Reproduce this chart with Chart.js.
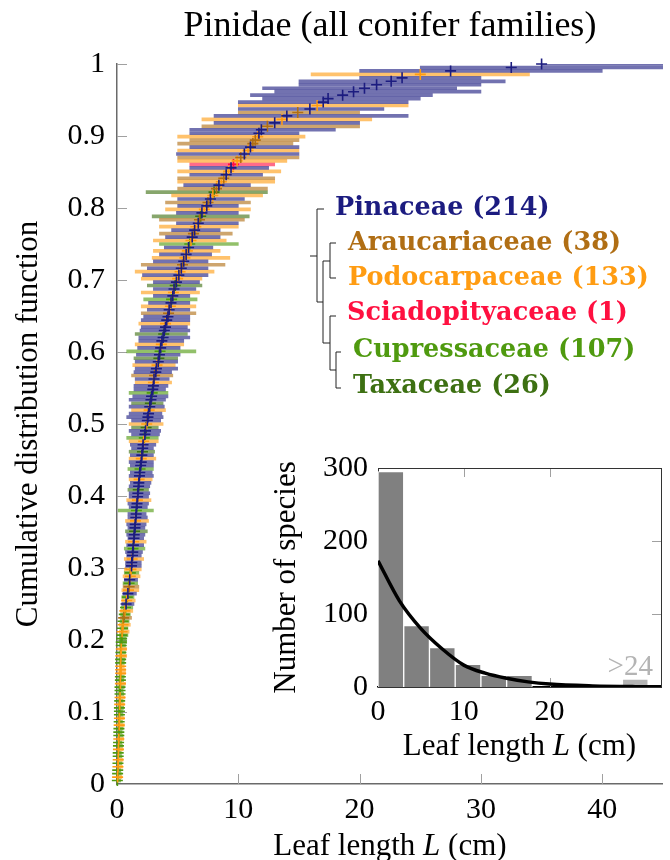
<!DOCTYPE html>
<html>
<head>
<meta charset="utf-8">
<script src="https://cdn.jsdelivr.net/npm/chart.js@4.4.1/dist/chart.umd.min.js"></script>
<style>
  body { margin: 0; background: #fff; }
  #wrap { position: relative; width: 670px; height: 860px; }
  #main { position: absolute; left: 0; top: 0; }
  #inset { position: absolute; left: 240px; top: 440px; }
</style>
</head>
<body>
<div id="wrap">
  <canvas id="main" width="670" height="860"></canvas>
  <canvas id="inset" width="430" height="330"></canvas>
</div>
<script>
// leaf length per species, [mean, min, max] in cm (a subsample)
const pinaceae = [
  [0.75,0.4,1.4],[0.9,0.5,1.6],[1.05,0.6,1.7],[1.2,0.7,2.0],
  [1.22,0.7,2.0],[1.28,0.8,2.0],[1.3,0.7,2.1],[1.35,0.8,2.2],[1.4,0.9,2.2],[1.42,0.8,2.3],[1.48,0.9,2.3],
  [1.5,0.8,2.4],[1.55,0.9,2.5],[1.58,0.9,2.4],[1.62,1.0,2.5],[1.65,0.9,2.6],[1.7,1.0,2.6],[1.72,1.0,2.7],
  [1.78,1.0,2.7],[1.8,1.1,2.8],[1.85,1.0,3.0],[1.88,1.1,2.9],[1.95,1.1,3.0],[2.0,1.0,3.0],[2.05,1.1,3.0],
  [2.12,1.2,3.0],[2.15,1.1,3.2],[2.3,1.2,3.5],[2.35,1.0,3.6],[2.5,1.2,3.6],
  [2.55,0.8,3.8],[2.6,1.0,3.7],[2.7,1.0,3.9],[2.8,1.0,4.0],[2.85,1.3,4.2],[2.95,1.4,4.0],[3.0,1.4,4.2],
  [3.05,1.5,4.3],[3.2,1.4,4.5],[3.25,1.5,5.0],[3.4,1.5,5.0],[3.5,1.6,5.2],[3.6,1.7,5.2],[3.7,1.8,5.5],
  [3.8,1.8,6.0],[3.9,1.9,6.0],[4.0,2.0,5.8],[4.1,2.0,6.0],[4.2,2.2,6.0],[4.3,2.5,6.0],[4.45,2.6,6.0],
  [4.6,3.0,6.0],[4.7,3.0,6.5],[4.9,3.0,6.8],
  [5.1,2.1,7.5],[5.3,2.5,7.5],[5.5,3.0,7.5],[5.7,3.5,7.8],[5.9,3.9,7.9],[6.2,4.0,8.5],[6.4,4.5,8.5],
  [6.7,4.9,10.0],[7.0,4.9,10.0],[7.4,5.0,10.0],[7.7,5.0,10.5],[8.4,5.5,11.0],[9.0,6.0,12.0],[9.4,6.0,12.5],
  [10.5,4.9,15.0],[11.0,6.0,15.0],[11.7,6.0,15.0],
  [11.9,6,18],[13.0,8,20],[14.0,8,24],[15.9,10,22],[17.0,10,24],[17.4,12,25],[18.6,11,26],[19.5,13,30],
  [20.4,12,28],[21.4,15,30],[22.6,15,32],[23.5,20,30],[27.5,20,40],[32.5,25,46],[35.0,35,46]
];
const araucariaceae = [
  [0.55,0.3,1.2],[1.0,0.5,1.8],[3.1,1.2,4.6],[4.25,2.0,6.5],[5.4,2.0,8.9],[6.3,3.5,9.5],[6.8,3.5,10.5],
  [7.5,4.0,11.0],[8.2,5.0,12.4],[8.8,5.0,13.0],[10.2,5.0,15.0],[11.2,5.0,14.5],[11.4,6.0,15.0],
  [12.4,7,20],[14.9,10,20]
];
const podocarpaceae = [
  [0.05,0.0,0.4],[0.08,0.0,0.45],[0.1,0.03,0.5],[0.12,0.05,0.5],[0.15,0.05,0.55],[0.18,0.05,0.6],
  [0.2,0.05,0.6],[0.22,0.1,0.6],[0.25,0.1,0.65],[0.28,0.1,0.7],[0.3,0.1,0.7],[0.3,0.15,0.7],[0.3,0.2,0.6],
  [0.32,0.15,0.8],[0.35,0.15,0.8],
  [0.42,0.2,1.0],[0.5,0.2,1.1],[0.65,0.3,1.3],[0.8,0.4,1.5],[0.95,0.4,1.8],[1.1,0.5,1.9],[1.15,0.6,2.0],
  [1.25,0.6,2.2],[1.38,0.7,2.4],[1.52,0.7,2.6],[1.68,0.8,2.8],[1.82,1.0,2.9],[2.0,1.0,3.2],[2.2,1.0,3.4],
  [2.45,1.0,3.8],
  [2.65,1.2,4.0],[3.0,1.5,4.5],[3.3,1.3,4.8],[3.65,1.5,5.5],[4.0,1.8,6.0],[4.4,2.0,6.5],[4.65,2.0,6.8],
  [5.0,2.0,7.0],
  [5.2,1.5,8.0],[5.6,2.9,9.3],[5.8,3.0,8.5],[6.1,3.0,9.0],[6.5,3.5,10.0],[7.2,4.0,11.0],[7.9,4.5,12.0],
  [8.6,5.0,13.0],[9.2,5.0,13.5],[9.9,5.0,14.0],[10.8,5.0,15.0],[11.6,5.0,15.5],
  [13.6,7,21],[16.5,10,24],[25.0,16,34]
];
const sciadopityaceae = [[9.6,6.0,13.0]];
const cupressaceae = [
  [0.03,0.0,0.3],[0.05,0.02,0.35],[0.06,0.02,0.3],[0.08,0.03,0.4],[0.1,0.05,0.4],[0.1,0.05,0.35],
  [0.12,0.05,0.45],[0.13,0.05,0.4],[0.15,0.05,0.5],[0.15,0.08,0.4],[0.16,0.05,0.5],[0.18,0.08,0.45],
  [0.2,0.1,0.5],[0.2,0.1,0.45],[0.2,0.1,0.55],[0.22,0.1,0.5],[0.25,0.1,0.55],[0.25,0.12,0.5],
  [0.25,0.1,0.6],[0.28,0.12,0.55],[0.28,0.15,0.6],[0.3,0.15,0.6],[0.3,0.15,0.65],[0.32,0.15,0.7],
  [0.35,0.2,0.7],[0.35,0.2,0.8],[0.38,0.2,0.75],
  [0.4,0.2,0.9],[0.45,0.25,0.9],[0.5,0.25,1.0],[0.6,0.3,1.1],[0.7,0.35,1.3],[0.85,0.4,1.4],[1.0,0.5,1.7],
  [1.1,0.6,1.8],
  [1.32,0.6,2.3],[1.6,0.1,3.0],[1.9,0.9,3.0],[2.25,0.8,3.4],
  [2.9,1.0,4.2],[3.55,0.8,6.5],[4.5,2.2,6.6],
  [6.0,3.5,10.0]
];
const taxaceae = [
  [1.45,0.7,2.5],[1.75,0.9,2.6],[2.1,1.0,3.1],[2.4,1.2,3.4],[2.75,1.2,3.8],[3.45,1.4,5.0],[3.85,1.5,5.8],
  [4.8,2.5,7.0],[6.9,2.9,10.9],[8.0,2.4,12.4]
];

const familyNames = ['Pinaceae', 'Araucariaceae', 'Podocarpaceae', 'Sciadopityaceae', 'Cupressaceae', 'Taxaceae'];
const speciesCounts = [214, 38, 133, 1, 107, 26];
const familyColors = ['#1c1c80', '#b06e14', '#ff9c12', '#ff1040', '#4f9a0f', '#3d7012'];
const familyData = [pinaceae, araucariaceae, podocarpaceae, sciadopityaceae, cupressaceae, taxaceae];

// inset histogram (bins of 3 cm) and fitted curve
const binCenters = [1.5, 4.5, 7.5, 10.5, 13.5, 16.5];
const binCounts = [295, 84, 54, 31, 16, 16];
const overflowCenter = [30];
const overflowCount = [11];
const fitL = [0, 2.5, 5, 7.5, 10, 12.5, 15, 17.5, 20, 25, 30, 33];
const fitN = [173, 118, 80, 52, 30, 19, 12, 7, 4, 1.5, 0.5, 0.3];

const SERIF = '"Liberation Serif", "DejaVu Serif", serif';
const BOLD_SERIF = '"DejaVu Serif", "Liberation Serif", serif';
Chart.defaults.color = '#000';
Chart.defaults.font.family = SERIF;

function rgba(hex, a) {
  const n = parseInt(hex.slice(1), 16);
  return 'rgba(' + (n >> 16) + ',' + ((n >> 8) & 255) + ',' + (n & 255) + ',' + a + ')';
}

// pooled cumulative distribution: rank / total
const pts = [];
familyData.forEach((rows, f) => rows.forEach(r => pts.push({ f: f, x: r[0], lo: r[1], hi: r[2] })));
pts.sort((a, b) => a.x - b.x);
pts.forEach((p, i) => { p.y = (i + 1) / pts.length; });

const markSets = familyNames.map((name, f) => ({
  type: 'scatter',
  label: name,
  order: 0,
  clip: false,
  data: pts.filter(p => p.f === f).map(p => ({ x: p.x, y: p.y })),
  pointStyle: 'cross',
  pointRadius: 5.5,
  pointBorderWidth: 1.6,
  pointBorderColor: familyColors[f],
  pointBackgroundColor: familyColors[f]
}));

const barSets = familyNames.map((name, f) => ({
  type: 'bar',
  label: name,
  order: 1,
  indexAxis: 'y',
  grouped: false,
  data: pts.filter(p => p.f === f).map(p => ({ x: [p.lo, p.hi], y: p.y })),
  backgroundColor: rgba(familyColors[f], 0.62),
  borderWidth: 0,
  barThickness: 3
}));

function drawMixedTitle(ctx, parts, cx, baseline, size) {
  ctx.save();
  ctx.fillStyle = '#000';
  ctx.textBaseline = 'alphabetic';
  ctx.textAlign = 'left';
  let w = 0;
  parts.forEach(p => {
    ctx.font = (p[1] ? 'italic ' : '') + size + 'px ' + SERIF;
    w += ctx.measureText(p[0]).width;
  });
  let x = cx - w / 2;
  parts.forEach(p => {
    ctx.font = (p[1] ? 'italic ' : '') + size + 'px ' + SERIF;
    ctx.fillText(p[0], x, baseline);
    x += ctx.measureText(p[0]).width;
  });
  ctx.restore();
}

const innerTicks = {
  id: 'innerTicks',
  beforeDatasetsDraw(chart) {
    const { ctx, chartArea, scales } = chart;
    ctx.save();
    ctx.strokeStyle = '#a0a0a0';
    ctx.lineWidth = 1;
    scales.y.ticks.forEach(t => {
      if (t.value === 0) return;
      const y = Math.round(scales.y.getPixelForValue(t.value)) + 0.5;
      ctx.beginPath(); ctx.moveTo(chartArea.left, y); ctx.lineTo(chartArea.left + 10, y); ctx.stroke();
    });
    scales.x.ticks.forEach(t => {
      if (t.value === 0) return;
      const x = Math.round(scales.x.getPixelForValue(t.value)) + 0.5;
      ctx.beginPath(); ctx.moveTo(x, chartArea.bottom); ctx.lineTo(x, chartArea.bottom - 10); ctx.stroke();
    });
    ctx.restore();
  }
};

// legend with the family tree
const legendLeft = [335, 348, 348, 347, 353, 353];
const legendMid = [208, 243, 278, 313, 350, 386];
const treeSegments = [
  [310, 256, 317, 256], [317, 209, 317, 302], [317, 209, 324, 209], [317, 302, 323, 302],
  [323, 261, 323, 343], [323, 261, 330, 261], [330, 243, 330, 278], [330, 243, 336, 243],
  [330, 278, 336, 278], [323, 343, 330, 343], [330, 316, 330, 370], [330, 316, 336, 316],
  [330, 370, 336, 370], [336, 352, 336, 388], [336, 352, 341, 352], [336, 388, 341, 388]
];
const legendTree = {
  id: 'legendTree',
  afterDraw(chart) {
    const ctx = chart.ctx;
    ctx.save();
    ctx.strokeStyle = '#222';
    ctx.lineWidth = 1;
    treeSegments.forEach(s => {
      ctx.beginPath(); ctx.moveTo(s[0], s[1]); ctx.lineTo(s[2], s[3]); ctx.stroke();
    });
    ctx.font = 'bold 25.5px ' + BOLD_SERIF;
    ctx.textBaseline = 'middle';
    ctx.textAlign = 'left';
    familyNames.forEach((name, f) => {
      ctx.fillStyle = familyColors[f];
      ctx.fillText(name + ' (' + speciesCounts[f] + ')', legendLeft[f], legendMid[f]);
    });
    ctx.restore();
  }
};

const mainXTitle = {
  id: 'mainXTitle',
  afterDraw(chart) {
    const a = chart.chartArea;
    drawMixedTitle(chart.ctx, [['Leaf length ', false], ['L', true], [' (cm)', false]], (a.left + a.right) / 2, 855, 31);
  }
};

new Chart(document.getElementById('main'), {
  type: 'scatter',
  data: { datasets: markSets.concat(barSets) },
  options: {
    responsive: false,
    animation: false,
    events: [],
    layout: { padding: { left: 0, right: 6, top: 0, bottom: 0 } },
    plugins: {
      legend: { display: false },
      tooltip: { enabled: false },
      title: {
        display: true,
        text: 'Pinidae (all conifer families)',
        fullSize: false,
        color: '#000',
        font: { family: SERIF, size: 36, weight: 'normal', lineHeight: 1.2 },
        padding: { top: 5, bottom: 15.8 }
      }
    },
    scales: {
      x: {
        type: 'linear', min: 0, max: 45, offset: false,
        afterFit(s) { s.height = 76; },
        grid: { display: false, drawTicks: false },
        border: { display: true, color: '#6a6a6a', width: 1.5 },
        ticks: { stepSize: 10, includeBounds: false, padding: 8, maxRotation: 0, font: { size: 30 } }
      },
      y: {
        type: 'linear', min: 0, max: 1, offset: false,
        afterFit(s) { s.width = 117; },
        grid: { display: false, drawTicks: false },
        border: { display: true, color: '#6a6a6a', width: 1.5 },
        ticks: { stepSize: 0.1, padding: 12, font: { size: 30 }, callback: v => String(+v.toFixed(1)) },
        title: {
          display: true, text: 'Cumulative distribution function',
          font: { size: 31, lineHeight: 1.2 }, padding: { top: 10, bottom: 0 }
        }
      }
    }
  },
  plugins: [innerTicks, legendTree, mainXTitle]
});

// inset
const insetFrame = {
  id: 'insetFrame',
  beforeDatasetsDraw(chart) {
    const { ctx, chartArea: a, scales } = chart;
    ctx.save();
    ctx.strokeStyle = '#a0a0a0';
    ctx.lineWidth = 1;
    [10, 20].forEach(v => {
      const x = Math.round(scales.x.getPixelForValue(v)) + 0.5;
      ctx.beginPath(); ctx.moveTo(x, a.top); ctx.lineTo(x, a.top + 9); ctx.stroke();
      ctx.beginPath(); ctx.moveTo(x, a.bottom); ctx.lineTo(x, a.bottom - 9); ctx.stroke();
    });
    [100, 200].forEach(v => {
      const y = Math.round(scales.y.getPixelForValue(v)) + 0.5;
      ctx.beginPath(); ctx.moveTo(a.left, y); ctx.lineTo(a.left + 9, y); ctx.stroke();
      ctx.beginPath(); ctx.moveTo(a.right, y); ctx.lineTo(a.right - 9, y); ctx.stroke();
    });
    ctx.strokeStyle = '#333';
    ctx.strokeRect(Math.round(a.left) + 0.5, Math.round(a.top) + 0.5, Math.round(a.right - a.left), Math.round(a.bottom - a.top));
    ctx.restore();
  },
  afterDraw(chart) {
    const { ctx, scales, chartArea: a } = chart;
    ctx.save();
    ctx.fillStyle = '#b4b4b4';
    ctx.font = '29px ' + SERIF;
    ctx.textAlign = 'center';
    ctx.textBaseline = 'alphabetic';
    ctx.fillText('>24', scales.x.getPixelForValue(overflowCenter[0]) - 5, scales.y.getPixelForValue(overflowCount[0]) - 4);
    ctx.restore();
    drawMixedTitle(ctx, [['Leaf length ', false], ['L', true], [' (cm)', false]], (a.left + a.right) / 2, 315, 31);
  }
};

new Chart(document.getElementById('inset'), {
  type: 'bar',
  data: {
    datasets: [
      {
        type: 'line', order: 0,
        data: fitL.map((x, i) => ({ x: x, y: fitN[i] })),
        borderColor: '#000', borderWidth: 3.5, pointRadius: 0,
        cubicInterpolationMode: 'monotone'
      },
      {
        order: 1, grouped: false,
        data: binCenters.map((x, i) => ({ x: x, y: binCounts[i] })),
        backgroundColor: '#808080', borderColor: '#ffffff', borderWidth: 1,
        barPercentage: 1, categoryPercentage: 1
      },
      {
        order: 1, grouped: false,
        data: overflowCenter.map((x, i) => ({ x: x, y: overflowCount[i] })),
        backgroundColor: '#b4b4b4', borderColor: '#ffffff', borderWidth: 1,
        barPercentage: 1, categoryPercentage: 1
      }
    ]
  },
  options: {
    responsive: false,
    animation: false,
    events: [],
    layout: { padding: { left: 0, right: 9, top: 26, bottom: 0 } },
    plugins: { legend: { display: false }, tooltip: { enabled: false } },
    scales: {
      x: {
        type: 'linear', min: 0, max: 33, offset: false,
        afterFit(s) { s.height = 83; },
        afterBuildTicks(s) { s.ticks = s.ticks.filter(t => t.value <= 20); },
        grid: { display: false, drawTicks: false },
        border: { display: true, color: '#000', width: 1.5 },
        ticks: { stepSize: 10, includeBounds: false, padding: 7, maxRotation: 0, font: { size: 30 } }
      },
      y: {
        type: 'linear', min: 0, max: 300,
        afterFit(s) { s.width = 138; },
        grid: { display: false, drawTicks: false },
        border: { display: true, color: '#333', width: 1 },
        ticks: { stepSize: 100, padding: 10, font: { size: 30 } },
        title: {
          display: true, text: 'Number of species',
          font: { size: 31, lineHeight: 1.2 }, padding: { top: 28, bottom: 0 }
        }
      }
    }
  },
  plugins: [insetFrame]
});
</script>
</body>
</html>
